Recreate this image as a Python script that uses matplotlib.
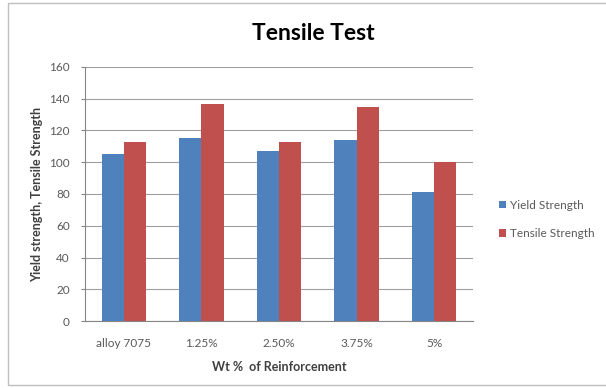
import matplotlib
matplotlib.use('Agg')
import matplotlib.pyplot as plt
import matplotlib.patches as mpatches
import numpy as np

categories = ["alloy 7075", "1.25%", "2.50%", "3.75%", "5%"]
yield_strength = [105, 115, 107, 114, 81]
tensile_strength = [113, 137, 113, 135, 100]
yticks = [0, 20, 40, 60, 80, 100, 120, 140, 160]

BLUE = '#4F81BD'
RED = '#C0504D'

plt.rcParams['font.family'] = ['Lato', 'DejaVu Sans']

fig = plt.figure(figsize=(6.06, 3.88), dpi=100)
# outer chart frame
fig.patches.append(mpatches.Rectangle((8/606, 3/388), 0.995, 0.985, transform=fig.transFigure,
                                      fill=False, edgecolor='#BFBFBF', linewidth=1.0))

ax = fig.add_axes([85/606, 1-321/388, (473-85)/606, (321-67)/388])
x = np.arange(len(categories))
w = 1/3.5
ax.bar(x - w/2, yield_strength, w, color=BLUE, label='Yield Strength', zorder=3)
ax.bar(x + w/2, tensile_strength, w, color=RED, label='Tensile Strength', zorder=3)

ax.set_xlim(-0.5, len(categories) - 0.5)
ax.set_ylim(0, 160)
ax.set_yticks(yticks)
ax.set_yticklabels([str(v) for v in yticks], fontsize=8.5, color='#595959')
ax.set_xticks(x)
ax.set_xticklabels(categories, fontsize=8.5, color='#595959')
ax.tick_params(axis='y', length=3, color='#868686', pad=8)
ax.tick_params(axis='x', length=0, pad=12)
ax.grid(True, axis='y', color='#A0A0A0', linewidth=0.8, zorder=0)
for s in ['top', 'right']:
  ax.spines[s].set_visible(False)
ax.spines['left'].set_color('#868686')
ax.spines['bottom'].set_color('#868686')

ax.set_xlabel("Wt %  of Reinforcement", fontsize=9, fontweight='bold', color='#404040', labelpad=9)
ax.set_ylabel("Yield strength, Tensile Strength", fontsize=9, fontweight='bold', color='#404040', labelpad=4)
fig.text(313/606, 1-34/388, "Tensile Test", fontsize=16.5, fontweight='bold', ha='center', va='center')

ax.legend(loc='center left', bbox_to_anchor=(1.04, 0.40), frameon=False, fontsize=8.5,
          handlelength=0.6, handleheight=0.6, handletextpad=0.3, labelspacing=1.5,
          labelcolor='#595959')

plt.savefig('out.png', dpi=100)
